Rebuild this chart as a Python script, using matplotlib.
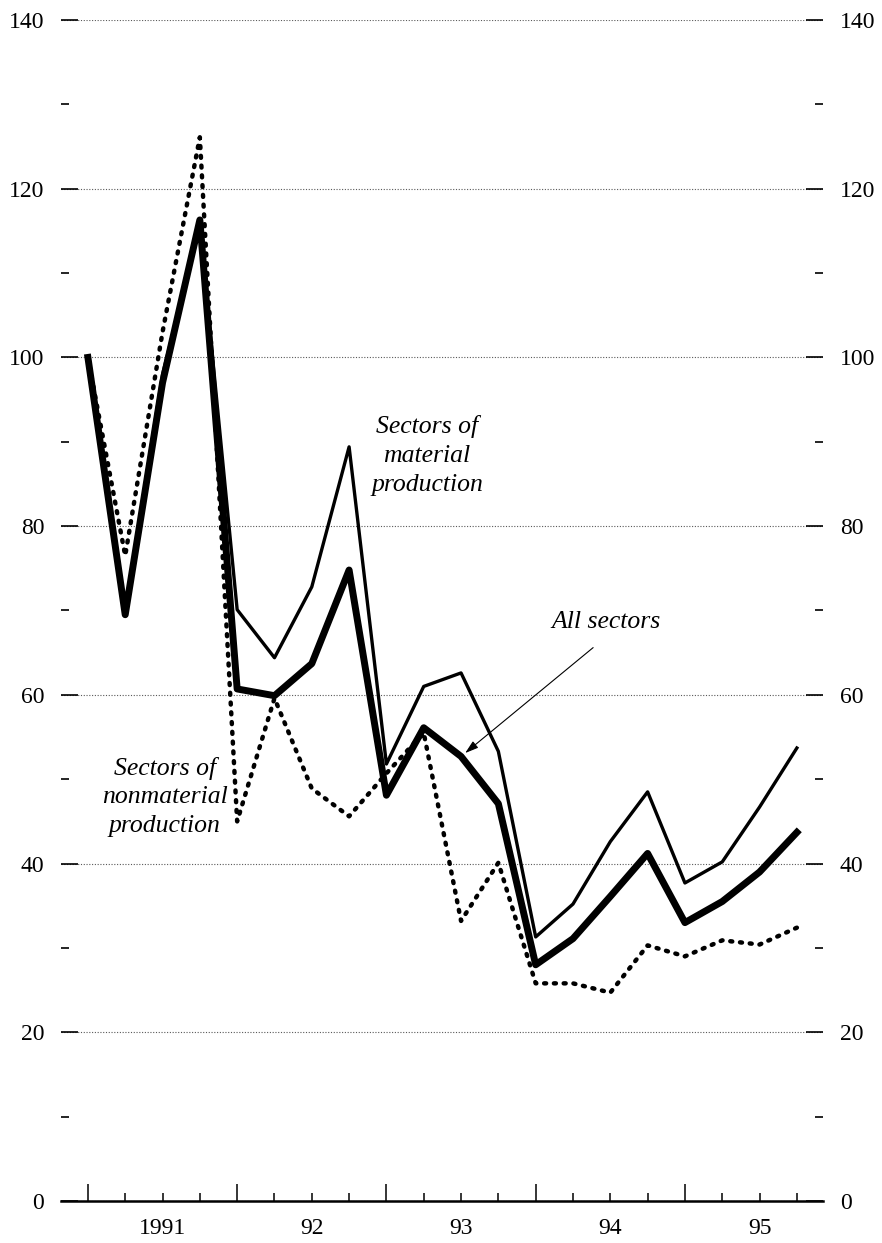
import matplotlib
matplotlib.use("Agg")
import matplotlib.pyplot as plt
from matplotlib.ticker import MultipleLocator

plt.rcParams["font.family"] = ["Liberation Serif", "DejaVu Serif"]

# quarterly values, 1991 Q1 .. 1995 Q4 (index 1991 Q1 = 100)
quarters = list(range(20))
all_sectors = [100, 69.5, 97, 116.3, 60.7, 59.9, 63.7, 74.8, 48.1, 56.1,
               52.7, 47.1, 28.0, 31.1, 36.1, 41.2, 33.0, 35.5, 39.0, 43.7]
material = [100, 70, 98, 115.5, 70.1, 64.4, 72.8, 89.4, 51.8, 61.0,
            62.6, 53.3, 31.3, 35.2, 42.6, 48.5, 37.7, 40.2, 46.7, 53.7]
nonmaterial = [100, 76.5, 103, 126.1, 45.0, 59.6, 48.9, 45.6, 50.7, 55.5,
               33.2, 40.1, 25.8, 25.8, 24.7, 30.3, 29.0, 30.9, 30.4, 32.4]

year_starts = [0, 4, 8, 12, 16]
year_mid = [2, 6, 10, 14, 18]
year_labels = ["1991", "92", "93", "94", "95"]

fig = plt.figure(figsize=(8.82, 12.43), dpi=100)
ax = fig.add_axes([0.0692, 0.0338, 0.8639, 0.9501])

ax.plot(quarters, nonmaterial, color="black", lw=3.2, linestyle=(0, (0.45, 1.75)),
        dash_capstyle="round", dash_joinstyle="round")
ax.plot(quarters, material, color="black", lw=2.4, solid_joinstyle="round")
ax.plot(quarters, all_sectors, color="black", lw=5, solid_joinstyle="round")

ax.set_xlim(-0.72, 19.7)
ax.set_ylim(0, 140)

# y axis, labels on both sides
ax.yaxis.set_major_locator(MultipleLocator(20))
ax.yaxis.set_minor_locator(MultipleLocator(10))
ax.tick_params(axis="y", which="both", direction="in", left=True, right=True,
               labelleft=True, labelright=True, labelsize=17, pad=12, width=1.2)
ax.tick_params(axis="y", which="major", length=12)
ax.tick_params(axis="y", which="minor", length=6)
ax.grid(axis="y", which="major", color="0.35", lw=0.8, linestyle=(0, (1, 1.5)))

# x axis: long ticks at year starts, year labels in the middle
minor_pos = [q for q in quarters if q not in year_starts]
minor_lab = [year_labels[year_mid.index(q)] if q in year_mid else "" for q in minor_pos]
ax.set_xticks(year_starts, [""] * len(year_starts))
ax.set_xticks(minor_pos, minor_lab, minor=True)
ax.tick_params(axis="x", which="both", direction="in", labelsize=17, pad=12, width=1.1)
ax.tick_params(axis="x", which="major", length=12)
ax.tick_params(axis="x", which="minor", length=6)

for side in ["left", "right", "top"]:
    ax.spines[side].set_visible(False)
ax.spines["bottom"].set_linewidth(1.8)

ax.text(9.09, 88.4, "Sectors of\nmaterial\nproduction", ha="center", va="center",
        fontsize=18.5, style="italic", linespacing=1.4)
ax.text(2.06, 47.9, "Sectors of\nnonmaterial\nproduction", ha="center", va="center",
        fontsize=18.5, style="italic", linespacing=1.4)
ax.text(13.89, 68.6, "All sectors", ha="center", va="center",
        fontsize=18.5, style="italic")
ax.annotate("", xy=(10.11, 53.1), xytext=(13.54, 65.6),
            arrowprops=dict(arrowstyle="-|>,head_length=0.8,head_width=0.25",
                            color="black", lw=0.8, shrinkA=0, shrinkB=0))

fig.savefig("out.png", dpi=100)
